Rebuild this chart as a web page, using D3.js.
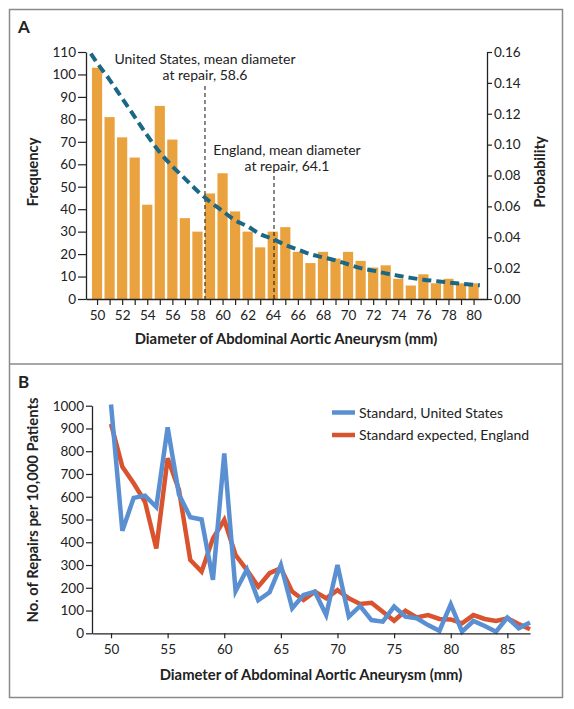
<!DOCTYPE html>
<html><head><meta charset="utf-8">
<script src="https://cdn.jsdelivr.net/npm/d3@7"></script>
<style>
body{margin:0;background:#fff;}
text{font-family:Lato,"Open Sans",sans-serif;fill:#222;}
</style></head>
<body><svg id="c" width="574" height="709"></svg>
<script>
// Panel A data
const diameters = d3.range(50, 81);
const frequency = [103,81,72,63,42,86,71,36,30,47,56,39,30,23,30,32,21,16,21,18,21,17,14,15,9,6,11,7,9,7,7];
const curveX = [49.5,50,51,52,53,54,55,56,57,58,59,60,61,62,63,64,65,66,67,68,69,70,71,72,73,74,75,76,77,78,79,80,80.5];
const curveP = [0.159,0.153,0.142,0.130,0.118,0.106,0.095,0.086,0.078,0.070,0.063,0.057,0.051,0.047,0.042,0.039,0.035,0.032,0.029,0.027,0.025,0.0225,0.020,0.0184,0.0166,0.0151,0.0137,0.0125,0.0116,0.0107,0.0099,0.0092,0.0089];
const freqTicks = d3.range(0, 111, 10);
const probTicks = [0,0.02,0.04,0.06,0.08,0.10,0.12,0.14,0.16];
const xTicksA = d3.range(50, 81, 2);
const meanUS = 58.6, meanEngland = 64.1;

// Panel B data
const diametersB = d3.range(50, 88);
const usRepairs = [1005,450,595,605,555,905,610,510,500,235,790,185,280,145,180,300,110,168,183,80,300,73,120,58,51,117,73,66,36,11,127,7,54,32,7,69,22,47];
const englandRepairs = [920,732,659,578,373,769,630,322,271,417,498,344,278,205,264,286,183,146,183,154,190,154,129,134,95,55,99,70,80,63,61,44,80,63,54,66,41,18];
const repairTicks = d3.range(0, 1001, 100);
const xTicksB = d3.range(50, 86, 5);
const seriesNames = ["Standard, United States", "Standard expected, England"];
const seriesColors = ["#5a8fd2", "#d9532f"];

const svg = d3.select("#c");

// Frame
svg.append("rect").attr("x",9.5).attr("y",9.5).attr("width",553).attr("height",688)
  .attr("fill","none").attr("stroke","#8a8a8a").attr("stroke-width",1.5);
svg.append("line").attr("x1",9).attr("x2",563).attr("y1",364).attr("y2",364)
  .attr("stroke","#8a8a8a").attr("stroke-width",1.5);

svg.append("text").attr("x",18).attr("y",33).attr("font-size",17).attr("font-weight","bold").text("A");
svg.append("text").attr("x",18).attr("y",388).attr("font-size",17).attr("font-weight","bold").text("B");

// ---------- Panel A ----------
const xA = d3.scaleLinear().domain([49.12, 81.07]).range([86, 487]);
const yA = d3.scaleLinear().domain([0, 110]).range([299, 52]);
const yP = d3.scaleLinear().domain([0, 0.16]).range([299, 52]);
const gA = svg.append("g");

gA.selectAll("rect.bar").data(diameters).join("rect").attr("class","bar")
  .attr("x", d => xA(d) - 5.1).attr("width", 10.2)
  .attr("y", (d,i) => yA(frequency[i])).attr("height", (d,i) => yA(0) - yA(frequency[i]))
  .attr("fill", "#e9a23d");

// mean lines
[[meanUS, 86],[meanEngland, 176]].forEach(([m, top]) => {
  gA.append("line").attr("x1", xA(m)).attr("x2", xA(m)).attr("y1", top).attr("y2", yA(0))
    .attr("stroke","#111").attr("stroke-width",1).attr("stroke-dasharray","4,3");
});

// curve
gA.append("path").datum(curveX.map((x,i)=>[x, curveP[i]]))
  .attr("d", d3.line().x(d=>xA(d[0])).y(d=>yP(d[1])).curve(d3.curveMonotoneX))
  .attr("fill","none").attr("stroke","#1b6786").attr("stroke-width",4)
  .attr("stroke-dasharray","9,5");

// axes
const axL = gA.append("g").attr("transform","translate(86,0)")
  .call(d3.axisLeft(yA).tickValues(freqTicks).tickSize(8).tickPadding(2).tickSizeOuter(0));
const axR = gA.append("g").attr("transform","translate(487,0)")
  .call(d3.axisRight(yP).tickValues(probTicks).tickSize(5).tickPadding(2).tickSizeOuter(0).tickFormat(d3.format(".2f")));
const axB = gA.append("g").attr("transform","translate(0,299)")
  .call(d3.axisBottom(xA).tickValues(diameters).tickSize(6).tickPadding(5).tickSizeOuter(0)
    .tickFormat(d => xTicksA.includes(d) ? d : ""));
[axL, axR, axB].forEach(a => {
  a.select(".domain").attr("stroke","#222").attr("stroke-width",1.3);
  a.selectAll(".tick line").attr("stroke","#222").attr("stroke-width",1.2);
  a.selectAll("text").attr("font-size",13.5).attr("font-family","Lato, sans-serif").attr("fill","#222");
});

gA.append("text").attr("transform","translate(38,172) rotate(-90)").attr("text-anchor","middle")
  .attr("font-size",14.8).attr("font-weight","bold").text("Frequency");
gA.append("text").attr("transform","translate(545,172) rotate(-90)").attr("text-anchor","middle")
  .attr("font-size",14.8).attr("font-weight","bold").text("Probability");
gA.append("text").attr("x",286).attr("y",344).attr("text-anchor","middle")
  .attr("font-size",14.8).attr("font-weight","bold").text("Diameter of Abdominal Aortic Aneurysm (mm)");

// annotations
gA.append("text").attr("x",xA(meanUS)).attr("y",64).attr("text-anchor","middle").attr("font-size",14).text("United States, mean diameter");
gA.append("text").attr("x",xA(meanUS)).attr("y",80).attr("text-anchor","middle").attr("font-size",14).text("at repair, " + meanUS);
gA.append("text").attr("x",287).attr("y",155).attr("text-anchor","middle").attr("font-size",14).text("England, mean diameter");
gA.append("text").attr("x",287).attr("y",171).attr("text-anchor","middle").attr("font-size",14).text("at repair, " + meanEngland);

// ---------- Panel B ----------
const xB = d3.scaleLinear().domain([48.32, 87]).range([92, 530]);
const yB = d3.scaleLinear().domain([0, 1000]).range([633.3, 405.7]);
const gB = svg.append("g");

const lineB = d3.line().x((d,i)=>xB(diametersB[i])).y(d=>yB(d));
gB.append("path").datum(englandRepairs).attr("d", lineB).attr("fill","none")
  .attr("stroke", seriesColors[1]).attr("stroke-width",4.5).attr("stroke-linejoin","miter");
gB.append("path").datum(usRepairs).attr("d", lineB).attr("fill","none")
  .attr("stroke", seriesColors[0]).attr("stroke-width",4.5).attr("stroke-linejoin","miter");

const bL = gB.append("g").attr("transform","translate(92,0)")
  .call(d3.axisLeft(yB).tickValues(repairTicks).tickSize(6).tickPadding(2).tickSizeOuter(0).tickFormat(d3.format("d")));
const bB = gB.append("g").attr("transform","translate(0,633.3)")
  .call(d3.axisBottom(xB).tickValues(xTicksB).tickSize(5).tickPadding(6).tickSizeOuter(0));
[bL, bB].forEach(a => {
  a.select(".domain").attr("stroke","#222").attr("stroke-width",1.3);
  a.selectAll(".tick line").attr("stroke","#222").attr("stroke-width",1.2);
  a.selectAll("text").attr("font-size",13.5).attr("font-family","Lato, sans-serif").attr("fill","#222");
});

gB.append("text").attr("transform","translate(38,510) rotate(-90)").attr("text-anchor","middle")
  .attr("font-size",14.8).attr("font-weight","bold").text("No. of Repairs per 10,000 Patients");
gB.append("text").attr("x",311).attr("y",680).attr("text-anchor","middle")
  .attr("font-size",14.8).attr("font-weight","bold").text("Diameter of Abdominal Aortic Aneurysm (mm)");

// legend
seriesNames.forEach((n, k) => {
  const y = 412.5 + k * 22.5;
  gB.append("line").attr("x1",332).attr("x2",355).attr("y1",y).attr("y2",y)
    .attr("stroke", seriesColors[k]).attr("stroke-width",4.5);
  gB.append("text").attr("x",359).attr("y",y+5).attr("font-size",14).text(n);
});
</script></body></html>
